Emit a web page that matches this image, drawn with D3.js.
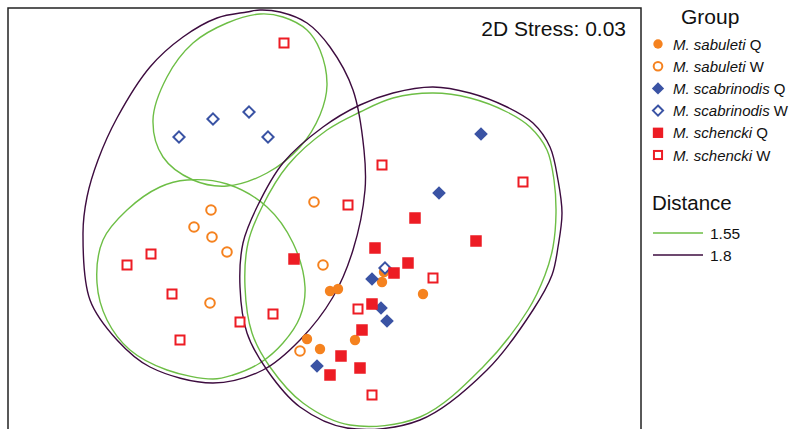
<!DOCTYPE html>
<html>
<head>
    <title>NMDS ordination</title>
    <script src="https://d3js.org/d3.v7.min.js"></script>
    <style>
        body { margin: 0; background: #fff; }
        svg { font-family: "Liberation Sans", Arial, sans-serif; }
    </style>
</head>
<body>
    <div id="chart"></div>

    <script>
        // NMDS scores
        const sabuletiQ = [[-0.012,-0.332],[0.02,-0.324],[0.204,-0.256],[0.196,-0.296],[0.36,-0.344],[-0.104,-0.524],[-0.052,-0.564],[0.088,-0.528]];
        const sabuletiW = [[-0.076,0.024],[-0.488,-0.008],[-0.556,-0.076],[-0.484,-0.116],[-0.424,-0.176],[-0.492,-0.38],[-0.04,-0.228],[-0.132,-0.572]];
        const scabrinodisQ = [[0.592,0.296],[0.424,0.06],[0.156,-0.284],[0.192,-0.4],[0.216,-0.452],[-0.064,-0.632]];
        const scabrinodisW = [[-0.616,0.284],[-0.48,0.356],[-0.336,0.384],[-0.26,0.284],[0.208,-0.24]];
        const schenckiQ = [[-0.156,-0.204],[0.328,-0.04],[0.572,-0.132],[0.168,-0.16],[0.3,-0.22],[0.244,-0.26],[0.156,-0.384],[0.116,-0.488],[0.032,-0.592],[0.108,-0.64],[-0.012,-0.668]];
        const schenckiW = [[-0.196,0.66],[0.196,0.172],[0.06,0.012],[0.76,0.104],[-0.728,-0.184],[-0.824,-0.228],[-0.644,-0.344],[-0.372,-0.456],[-0.24,-0.424],[-0.612,-0.528],[0.1,-0.404],[0.4,-0.28],[0.156,-0.748]];

        // cluster contours at two distance levels
        const green1 = [[-0.292,0.776],[-0.2,0.764],[-0.104,0.712],[-0.052,0.632],[-0.024,0.492],[-0.052,0.372],[-0.132,0.244],[-0.264,0.14],[-0.424,0.088],[-0.56,0.112],[-0.68,0.204],[-0.72,0.352],[-0.664,0.524],[-0.56,0.66],[-0.424,0.74]];
        const green2 = [[-0.584,0.112],[-0.424,0.096],[-0.264,0.004],[-0.16,-0.14],[-0.112,-0.316],[-0.132,-0.436],[-0.2,-0.54],[-0.292,-0.62],[-0.4,-0.668],[-0.48,-0.684],[-0.664,-0.648],[-0.812,-0.568],[-0.904,-0.448],[-0.944,-0.3],[-0.92,-0.128],[-0.824,-0.008],[-0.692,0.084]];
        const green3 = [[0.4,0.46],[0.548,0.44],[0.696,0.384],[0.788,0.324],[0.856,0.232],[0.884,0.112],[0.892,-0.02],[0.88,-0.156],[0.848,-0.268],[0.78,-0.408],[0.6,-0.636],[0.348,-0.836],[0.068,-0.868],[-0.12,-0.78],[-0.252,-0.636],[-0.324,-0.5],[-0.352,-0.316],[-0.34,-0.14],[-0.284,0.004],[-0.18,0.172],[-0.024,0.312],[0.108,0.384],[0.24,0.44]];
        const purple1 = [[-0.292,0.792],[-0.212,0.784],[-0.104,0.74],[-0.012,0.644],[0.08,0.472],[0.124,0.232],[0.128,0.072],[0.08,-0.168],[0.0,-0.356],[-0.132,-0.528],[-0.28,-0.648],[-0.48,-0.7],[-0.732,-0.636],[-0.864,-0.528],[-0.972,-0.368],[-1.0,-0.1],[-0.984,0.044],[-0.94,0.192],[-0.864,0.36],[-0.732,0.564],[-0.6,0.684],[-0.464,0.76],[-0.344,0.784]];
        const purple2 = [[0.4,0.484],[0.548,0.46],[0.696,0.404],[0.8,0.34],[0.868,0.244],[0.9,0.112],[0.916,-0.02],[0.9,-0.156],[0.876,-0.268],[0.8,-0.408],[0.616,-0.648],[0.348,-0.848],[0.056,-0.88],[-0.132,-0.796],[-0.264,-0.648],[-0.344,-0.5],[-0.372,-0.316],[-0.36,-0.14],[-0.304,0.004],[-0.2,0.18],[-0.04,0.324],[0.108,0.412],[0.24,0.46]];

        const orange = "#f5821f", blue = "#3a53a4", red = "#ed1c24";
        const green = "#6dbe45", purple = "#3d0c3f";

        const groups = [
            { sp: "M. sabuleti", caste: "Q", data: sabuletiQ, shape: "circle", color: orange, fill: true },
            { sp: "M. sabuleti", caste: "W", data: sabuletiW, shape: "circle", color: orange, fill: false },
            { sp: "M. scabrinodis", caste: "Q", data: scabrinodisQ, shape: "diamond", color: blue, fill: true },
            { sp: "M. scabrinodis", caste: "W", data: scabrinodisW, shape: "diamond", color: blue, fill: false },
            { sp: "M. schencki", caste: "Q", data: schenckiQ, shape: "square", color: red, fill: true },
            { sp: "M. schencki", caste: "W", data: schenckiW, shape: "square", color: red, fill: false }
        ];
        const contours = [
            { pts: green1, color: green }, { pts: green2, color: green }, { pts: green3, color: green },
            { pts: purple1, color: purple }, { pts: purple2, color: purple }
        ];
        const distances = [{ label: "1.55", color: green }, { label: "1.8", color: purple }];

        const width = 795, height = 429;
        const plotL = 8, plotT = 8, plotR = 641, plotB = 440;

        const x = d3.scaleLinear().domain([-1.3, 1.232]).range([plotL, plotR]);
        const y = d3.scaleLinear().domain([-0.928, 0.8]).range([plotB, plotT]);

        const svg = d3.select("#chart").append("svg")
            .attr("width", width)
            .attr("height", height);

        svg.append("clipPath").attr("id", "plotclip")
            .append("rect")
            .attr("x", plotL).attr("y", plotT)
            .attr("width", plotR - plotL).attr("height", plotB - plotT);

        const plot = svg.append("g").attr("clip-path", "url(#plotclip)");

        const line = d3.line()
            .x(d => x(d[0]))
            .y(d => y(d[1]))
            .curve(d3.curveCatmullRomClosed.alpha(0.5));

        plot.selectAll(".contour")
            .data(contours)
            .enter().append("path")
            .attr("class", "contour")
            .attr("d", d => line(d.pts))
            .attr("fill", "none")
            .attr("stroke", d => d.color)
            .attr("stroke-width", 1.4);

        function drawMarker(sel, g, small) {
            const k = small ? 0.9 : 1;
            let node;
            if (g.shape === "circle") {
                const r = (g.fill ? 5.2 : 4.8) * k;
                node = sel.append("circle").attr("r", r);
            } else if (g.shape === "square") {
                const s = (g.fill ? 11.5 : 9) * k;
                node = sel.append("rect").attr("x", -s / 2).attr("y", -s / 2).attr("width", s).attr("height", s);
            } else {
                const s = (g.fill ? 6.8 : 5.6) * k;
                node = sel.append("path").attr("d", `M0,${-s}L${s},0L0,${s}L${-s},0Z`);
            }
            if (g.fill) {
                node.attr("fill", g.color).attr("stroke", "none");
            } else {
                node.attr("fill", "#fff").attr("stroke", g.color).attr("stroke-width", 2);
            }
        }

        groups.forEach(g => {
            plot.selectAll(null)
                .data(g.data)
                .enter().append("g")
                .attr("transform", d => `translate(${x(d[0])},${y(d[1])})`)
                .each(function () { drawMarker(d3.select(this), g, false); });
        });

        // frame
        svg.append("rect")
            .attr("x", plotL).attr("y", plotT)
            .attr("width", plotR - plotL).attr("height", plotB - plotT)
            .attr("fill", "none")
            .attr("stroke", "#222")
            .attr("stroke-width", 1.5);

        svg.append("text")
            .attr("x", 626).attr("y", 35.5)
            .attr("text-anchor", "end")
            .attr("font-size", 21)
            .attr("fill", "#111")
            .text("2D Stress: 0.03");

        // legend: groups
        svg.append("text")
            .attr("x", 681).attr("y", 24)
            .attr("font-size", 21)
            .attr("fill", "#111")
            .text("Group");

        const leg = svg.selectAll(".leg")
            .data(groups)
            .enter().append("g")
            .attr("class", "leg")
            .attr("transform", (d, i) => `translate(658,${44 + i * 22.2})`);

        leg.each(function (g) { drawMarker(d3.select(this), g, true); });

        const lt = leg.append("text")
            .attr("x", 15).attr("y", 5.5)
            .attr("font-size", 15)
            .attr("fill", "#111");
        lt.append("tspan").attr("font-style", "italic").text(d => d.sp);
        lt.append("tspan").text(d => "\u00a0" + d.caste);

        // legend: distance
        svg.append("text")
            .attr("x", 652).attr("y", 210)
            .attr("font-size", 20.5)
            .attr("fill", "#111")
            .text("Distance");

        const dl = svg.selectAll(".dleg")
            .data(distances)
            .enter().append("g")
            .attr("class", "dleg")
            .attr("transform", (d, i) => `translate(653,${233 + i * 22})`);

        dl.append("line")
            .attr("x1", 0).attr("x2", 50)
            .attr("stroke", d => d.color)
            .attr("stroke-width", 1.5);

        dl.append("text")
            .attr("x", 57).attr("y", 5.5)
            .attr("font-size", 15.5)
            .attr("fill", "#111")
            .text(d => d.label);
    </script>
</body>
</html>
